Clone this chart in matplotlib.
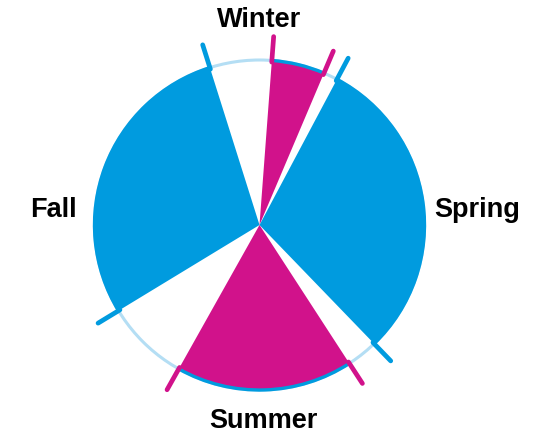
import numpy as np
import matplotlib
matplotlib.use("Agg")
import matplotlib.pyplot as plt
from matplotlib.patches import Arc, Circle

# Дані: кути секторів (градуси) та проміжки після кожного сектора
seasons = ["Winter", "Spring", "Summer", "Fall"]
share = [18.7, 108.0, 62.3, 103.8]
gap_after = [5.0, 11.0, 29.4, 21.8]
start_deg = 4.3  # початок першого сектора (за годинниковою від верху)

BLUE = "#009bdf"
MAGENTA = "#d1128b"
LIGHT = "#b4def4"
season_colors = [MAGENTA, BLUE, MAGENTA, BLUE]

# Чергування: сектор, проміжок, сектор, проміжок...
values = []
colors = []
for s, g, c in zip(share, gap_after, season_colors):
    values += [s, g]
    colors += [c, "none"]

fig = plt.figure(figsize=(5.52, 4.42), dpi=100)
ax = fig.add_axes([0, 0, 1, 1])

# Світле коло на фоні
ax.add_patch(Circle((0, 0), 1.0, fill=False, ec=LIGHT, lw=2.2, zorder=0))

wedges, _ = ax.pie(
    values,
    colors=colors,
    startangle=90 - start_deg,
    counterclock=False,
    radius=1.0,
    wedgeprops=dict(linewidth=0),
)
season_wedges = wedges[::2]

for w, c in zip(season_wedges, season_colors):
    w.set_zorder(2)
    # Синя дуга по краю сектора
    ax.add_patch(Arc((0, 0), 2.0, 2.0, theta1=w.theta1, theta2=w.theta2,
                     color=BLUE, lw=2.4, zorder=3))
    # Риски на межах сектора
    for th in (w.theta1, w.theta2):
        a = np.deg2rad(th)
        r = np.array([0.99, 1.145])
        ax.plot(r * np.cos(a), r * np.sin(a), color=c, lw=3.4,
                solid_capstyle="round", zorder=4)

font = dict(family="Liberation Sans", fontweight="bold", fontsize=19.5,
            color="black")
ax.text(-0.003, 1.20, "Winter", ha="center", va="baseline", **font)
ax.text(1.058, 0.048, "Spring", ha="left", va="baseline", **font)
ax.text(-1.106, 0.048, "Fall", ha="right", va="baseline", **font)
ax.text(0.024, -1.230, "Summer", ha="center", va="baseline", **font)

ax.set_xlim(-259.5 / 165, 292.5 / 165)
ax.set_ylim(-217 / 165, 225 / 165)
ax.set_aspect("equal")
ax.axis("off")

fig.savefig("out.png", dpi=100)
